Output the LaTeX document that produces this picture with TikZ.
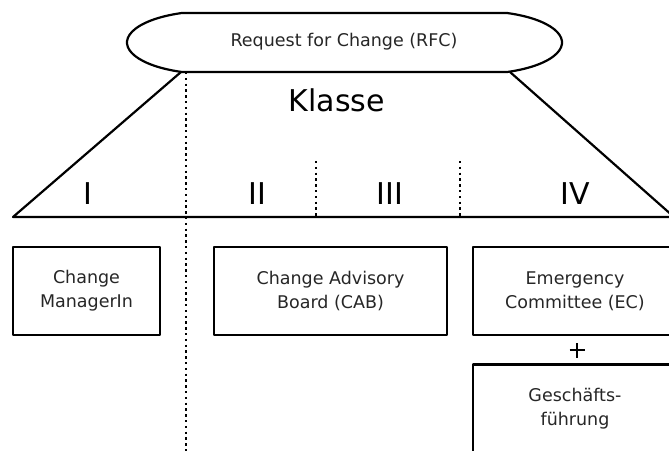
\documentclass[tikz,border=0pt]{standalone}
\usepackage{fontspec}
\setmainfont{DejaVu Sans}
\begin{document}
\begin{tikzpicture}[x=1pt,y=-1pt,
  solid line/.style={line width=2.2pt, line join=round},
  dotline/.style={line width=2.4pt, dash pattern=on 2.4pt off 3.4pt},
  smalltext/.style={font=\fontsize{17.5}{24}\selectfont, text=black!85, align=center},
  bigtext/.style={font=\fontsize{30}{36}\selectfont},
  rolebox/.style={draw, solid line, rectangle, minimum height=88pt, inner sep=0pt,
    smalltext}]
\useasboundingbox (0,0) rectangle (669,450);
\clip (0,0) rectangle (669,450);

% request shape: flat top and bottom with elliptic ends
\draw[solid line] (182,13) -- (507,13)
  arc[start angle=-70, end angle=70, x radius=83.6, y radius=31.4]
  -- (182,72)
  arc[start angle=110, end angle=250, x radius=83.6, y radius=31.4] -- cycle;
\node[smalltext] (rfc) at (344,42) {Request for Change (RFC)};

% class trapezoid
\coordinate (tl) at (181,72);
\coordinate (tr) at (510,72);
\coordinate (bl) at (13,217);
\coordinate (br) at (680,217);
\coordinate (rs) at (674,217);
\draw[solid line] (tl) -- (bl) -- (br);
\draw[solid line] (tr) -- (rs);
\node[bigtext] (klasse) at (337,100) {Klasse};

% class separators
\coordinate (d1t) at (186,72);
\coordinate (d1b) at (186,452);
\coordinate (d2t) at (316,161);
\coordinate (d2b) at (316,217);
\coordinate (d3t) at (460,161);
\coordinate (d3b) at (460,217);
\draw[dotline] (d1t) -- (d1b);
\draw[dotline] (d2t) -- (d2b);
\draw[dotline] (d3t) -- (d3b);

% class numerals
\node[bigtext] (c1) at (88,194) {I};
\node[bigtext] (c2) at (257,194) {II};
\node[bigtext] (c3) at (390,194) {III};
\node[bigtext] (c4) at (575,194) {IV};

% deciding bodies
\node[rolebox, minimum width=147pt] (cm) at (86.5,291) {Change\\ManagerIn};
\node[rolebox, minimum width=233pt] (cab) at (330.5,291) {Change Advisory\\Board (CAB)};
\node[rolebox, minimum width=204pt] (ec) at (575,291) {Emergency\\Committee (EC)};
\node[rolebox, minimum width=204pt] (gf) at (575,408.5) {Geschäfts-\\führung};

% plus sign between EC and management
\coordinate (p) at (577,350);
\draw[line width=2.2pt] ([xshift=-7.5pt]p) -- ([xshift=7.5pt]p);
\draw[line width=2.2pt] ([yshift=-7.5pt]p) -- ([yshift=7.5pt]p);
\end{tikzpicture}
\end{document}
